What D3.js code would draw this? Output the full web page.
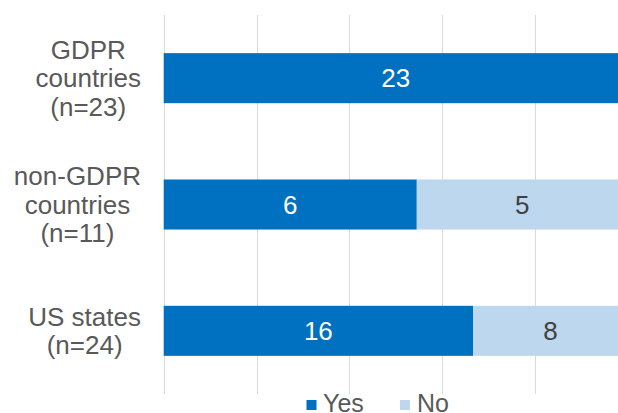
<!DOCTYPE html>
<html>
<head>
<meta charset="utf-8">
<script src="https://cdn.jsdelivr.net/npm/d3@7"></script>
<style>
  html, body { margin: 0; padding: 0; background: #ffffff; }
  svg { display: block; font-family: "Liberation Sans", Arial, sans-serif; }
</style>
</head>
<body>
<svg id="chart" width="618" height="413"></svg>
<script>
// Category labels (one entry per line) and counts per group
const categories = ["GDPR countries (n=23)", "non-GDPR countries (n=11)", "US states (n=24)"];
const categoryLines = [["GDPR", "countries", "(n=23)"], ["non-GDPR", "countries", "(n=11)"], ["US states", "(n=24)"]];
const yesValues = [23, 6, 16];
const noValues = [0, 5, 8];
const seriesNames = ["Yes", "No"];
const seriesColors = ["#0070C0", "#BDD7EE"];
const labelColors = ["#ffffff", "#404040"];
const gridTicks = [0, 0.2, 0.4, 0.6, 0.8, 1.0];

const svg = d3.select("#chart");
const textColor = "#595959";

const x = d3.scaleLinear().domain([0, 1]).range([163.7, 627.7]);
const y = d3.scaleBand().domain(categories).range([15, 394]).paddingInner(0.604).paddingOuter(0.302);

// Vertical gridlines (the 0% line doubles as the category axis)
svg.append("g")
  .selectAll("line")
  .data(gridTicks)
  .join("line")
  .attr("x1", d => Math.round(x(d)) + 0.5)
  .attr("x2", d => Math.round(x(d)) + 0.5)
  .attr("y1", 15)
  .attr("y2", 394)
  .attr("stroke", "#D9D9D9")
  .attr("stroke-width", 1);

// Stack the two series as shares of each group's total
const rows = categories.map((c, i) => {
  const total = yesValues[i] + noValues[i];
  return { cat: c, Yes: yesValues[i] / total, No: noValues[i] / total, counts: { Yes: yesValues[i], No: noValues[i] } };
});
const stacked = d3.stack().keys(seriesNames)(rows);

const layers = svg.append("g")
  .selectAll("g")
  .data(stacked)
  .join("g")
  .attr("fill", (d, i) => seriesColors[i]);

layers.selectAll("rect")
  .data(d => d.filter(s => s[1] - s[0] > 0))
  .join("rect")
  .attr("x", d => x(d[0]))
  .attr("width", d => x(d[1]) - x(d[0]))
  .attr("y", d => y(d.data.cat))
  .attr("height", y.bandwidth());

// Value labels centred in each segment
stacked.forEach((layer, li) => {
  svg.append("g")
    .selectAll("text")
    .data(layer.filter(s => s[1] - s[0] > 0))
    .join("text")
    .attr("x", d => (x(d[0]) + x(d[1])) / 2)
    .attr("y", d => y(d.data.cat) + y.bandwidth() / 2)
    .attr("dy", "0.35em")
    .attr("text-anchor", "middle")
    .attr("font-size", 26)
    .attr("fill", labelColors[li])
    .text(d => d.data.counts[layer.key]);
});

// Category labels: lines centred within a block that is right-aligned to the axis
const labelRight = 141;
const lineHeight = 28.3;
categories.forEach((c, i) => {
  const lines = categoryLines[i];
  const g = svg.append("g");
  const texts = g.selectAll("text")
    .data(lines)
    .join("text")
    .attr("font-size", 26)
    .attr("fill", textColor)
    .attr("text-anchor", "middle")
    .attr("y", (d, k) => y(c) + y.bandwidth() / 2 + (k - (lines.length - 1) / 2) * lineHeight)
    .attr("dy", "0.35em")
    .text(d => d);
  const widest = d3.max(texts.nodes(), n => n.getComputedTextLength());
  texts.attr("x", labelRight - widest / 2);
});

// Legend
const legendItems = [
  { name: seriesNames[0], color: seriesColors[0], sx: 306.5, tx: 323 },
  { name: seriesNames[1], color: seriesColors[1], sx: 400, tx: 417 }
];
const legend = svg.append("g");
legend.selectAll("rect")
  .data(legendItems)
  .join("rect")
  .attr("x", d => d.sx)
  .attr("y", 400)
  .attr("width", 10)
  .attr("height", 10)
  .attr("fill", d => d.color);
legend.selectAll("text")
  .data(legendItems)
  .join("text")
  .attr("x", d => d.tx)
  .attr("y", 412)
  .attr("font-size", 25)
  .attr("fill", textColor)
  .text(d => d.name);
</script>
</body>
</html>
